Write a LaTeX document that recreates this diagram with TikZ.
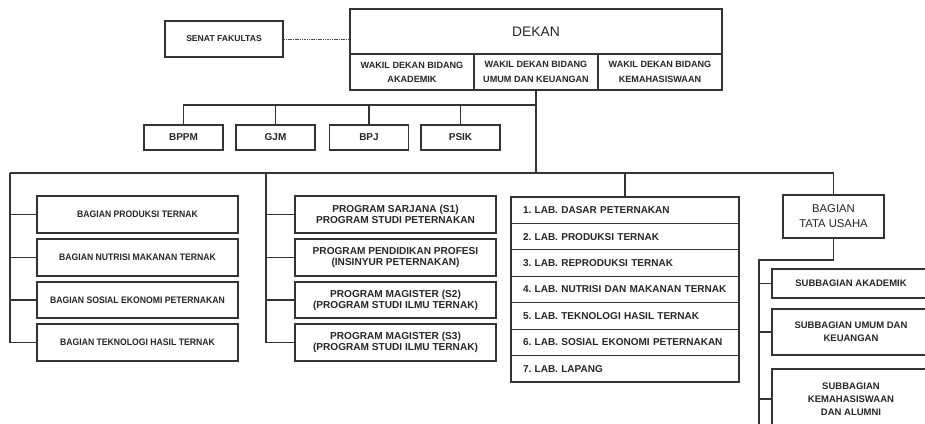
\documentclass[tikz,border=0pt]{standalone}
\usepackage{fontspec}
\setmainfont{Liberation Sans}
\newfontfamily\condsans[FakeStretch=0.92]{Liberation Sans}
\begin{document}
\begin{tikzpicture}[x=1pt,y=-1pt,
  box/.style={draw=black!80, line width=1.1pt, inner sep=0pt, align=center, text=black!85},
  conn/.style={draw=black!80, line width=1.1pt},
  dotlink/.style={draw=black!70, line width=0.6pt, dash pattern=on 1.5pt off 0.8pt},
  wakil/.style={box, minimum width=124pt, minimum height=36pt, font=\fontsize{9.1}{14.3}\selectfont\bfseries},
  small/.style={box, minimum width=79pt, minimum height=25pt, font=\fontsize{10}{12}\selectfont\bfseries},
  bagian/.style={box, minimum width=201pt, font=\condsans\fontsize{9.4}{11}\selectfont\bfseries},
  prog/.style={box, minimum width=201pt, font=\fontsize{10.1}{11}\selectfont\bfseries},
  labrow/.style={box, minimum width=228pt, minimum height=26.43pt, text width=228pt, inner xsep=0pt, align=left,
    font=\fontsize{10}{12}\selectfont\bfseries\frenchspacing, execute at begin node={\hspace*{12pt}}},
  sub/.style={box, minimum width=158pt, font=\fontsize{9.5}{13}\selectfont\bfseries}]
\clip (0,0) rectangle (925,423);
\fill[white] (0,0) rectangle (925,423);

% top
\node[box, minimum width=372pt, minimum height=45pt, font=\fontsize{13.8}{16}\selectfont] (dekan) at (536,31.5) {DEKAN};
\node[wakil] (w1) at (412,72) {WAKIL DEKAN BIDANG\\AKADEMIK};
\node[wakil] (w2) at (536,72) {WAKIL DEKAN BIDANG\\UMUM DAN KEUANGAN};
\node[wakil] (w3) at (660,72) {WAKIL DEKAN BIDANG\\KEMAHASISWAAN};
\node[box, minimum width=118pt, minimum height=36pt, font=\fontsize{8.6}{11}\selectfont\bfseries] (senat) at (224,39) {SENAT FAKULTAS};
\draw[dotlink] (senat.east) -- (senat.east -| dekan.west);

% units
\node[small] (bppm) at (183.5,137.5) {BPPM};
\node[small] (gjm) at (275.5,137.5) {GJM};
\node[small] (bpj) at (369,137.5) {BPJ};
\node[small] (psik) at (460.5,137.5) {PSIK};
\coordinate (hub1) at (536,105);
\coordinate (hub2) at (536,173);
\draw[conn] (w2.south) -- (hub2);
\draw[conn] (bppm.north) |- (hub1);
\draw[conn] (gjm.north) -- (gjm.north |- hub1);
\draw[conn] (bpj.north) -- (bpj.north |- hub1);
\draw[conn] (psik.north) -- (psik.north |- hub1);

% column 1
\node[bagian, minimum height=37pt] (b1) at (137.5,214.5) {BAGIAN PRODUKSI TERNAK};
\node[bagian, minimum height=37pt] (b2) at (137.5,257.5) {BAGIAN NUTRISI MAKANAN TERNAK};
\node[bagian, minimum height=36pt] (b3) at (137.5,300) {BAGIAN SOSIAL EKONOMI PETERNAKAN};
\node[bagian, minimum height=37pt] (b4) at (137.5,342.5) {BAGIAN TEKNOLOGI HASIL TERNAK};
\coordinate (c1) at (10,173);
\draw[conn] (c1) |- (b4.west);
\draw[conn] (b1.west) -- (b1.west -| c1);
\draw[conn] (b2.west) -- (b2.west -| c1);
\draw[conn] (b3.west) -- (b3.west -| c1);

% column 2
\node[prog, minimum height=37pt] (p1) at (395.5,214.5) {PROGRAM SARJANA (S1)\\PROGRAM STUDI PETERNAKAN};
\node[prog, minimum height=37pt] (p2) at (395.5,257.5) {PROGRAM PENDIDIKAN PROFESI\\(INSINYUR PETERNAKAN)};
\node[prog, minimum height=36pt] (p3) at (395.5,300) {PROGRAM MAGISTER (S2)\\(PROGRAM STUDI ILMU TERNAK)};
\node[prog, minimum height=37pt] (p4) at (395.5,342.5) {PROGRAM MAGISTER (S3)\\(PROGRAM STUDI ILMU TERNAK)};
\coordinate (c2) at (266,173);
\draw[conn] (c2) |- (p4.west);
\draw[conn] (p1.west) -- (p1.west -| c2);
\draw[conn] (p2.west) -- (p2.west -| c2);
\draw[conn] (p3.west) -- (p3.west -| c2);

% column 3 labs
\node[labrow] (lab1) at (625,210.2) {1. LAB. DASAR PETERNAKAN};
\node[labrow] (lab2) at (625,236.6) {2. LAB. PRODUKSI TERNAK};
\node[labrow] (lab3) at (625,263.1) {3. LAB. REPRODUKSI TERNAK};
\node[labrow] (lab4) at (625,289.5) {4. LAB. NUTRISI DAN MAKANAN TERNAK};
\node[labrow] (lab5) at (625,315.9) {5. LAB. TEKNOLOGI HASIL TERNAK};
\node[labrow] (lab6) at (625,342.4) {6. LAB. SOSIAL EKONOMI PETERNAKAN};
\node[labrow] (lab7) at (625,368.8) {7. LAB. LAPANG};
\draw[conn] (lab1.north) -- (lab1.north |- hub2);

% tata usaha
\node[box, minimum width=101pt, minimum height=43pt, font=\fontsize{11.3}{15}\selectfont] (tu) at (833.5,216.5) {BAGIAN\\TATA USAHA};
\draw[conn] (tu.north) |- (c1);
\node[sub, minimum height=29pt] (s1) at (851,283.5) {SUBBAGIAN AKADEMIK};
\node[sub, minimum height=46pt] (s2) at (851,332) {SUBBAGIAN UMUM DAN\\KEUANGAN};
\node[sub, minimum height=60pt] (s3) at (851,399) {SUBBAGIAN\\KEMAHASISWAAN\\DAN ALUMNI};
\coordinate (s0) at (759,260);
\coordinate (send) at (759,430);
\draw[conn] (tu.south) |- (s0) -- (send);
\draw[conn] (s1.west) -- (s1.west -| s0);
\draw[conn] (s2.west) -- (s2.west -| s0);
\draw[conn] (s3.west) -- (s3.west -| s0);
\end{tikzpicture}
\end{document}
